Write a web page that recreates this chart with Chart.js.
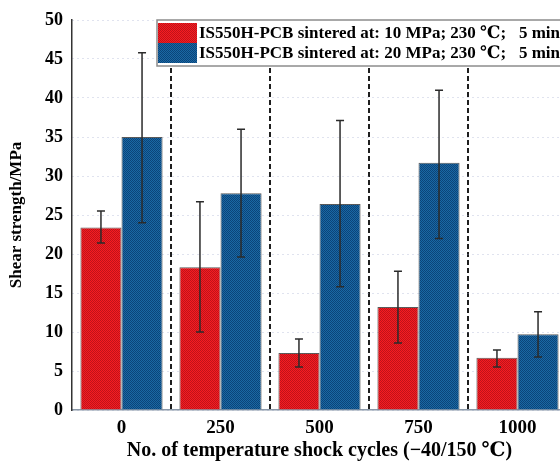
<!DOCTYPE html>
<html>
<head>
<meta charset="utf-8">
<script src="https://cdn.jsdelivr.net/npm/chart.js@4.4.1/dist/chart.umd.min.js"></script>
<style>
  html, body { margin: 0; padding: 0; background: #fff; overflow: hidden; }
  #wrap { width: 600px; height: 464px; }
</style>
</head>
<body>
<div id="wrap"><canvas id="chart" width="600" height="464"></canvas></div>
<script>
// values
const cycles = ['0', '250', '500', '750', '1000'];
const strength10 = [23.4, 18.3, 7.3, 13.2, 6.7];
const err10Low = [21.4, 10.0, 5.5, 8.6, 5.5];
const err10High = [25.5, 26.7, 9.1, 17.8, 7.7];
const strength20 = [35.0, 27.8, 26.4, 31.7, 9.7];
const err20Low = [24.0, 19.6, 15.8, 22.0, 6.8];
const err20High = [45.8, 36.0, 37.1, 41.0, 12.6];
const yTicks = [0, 5, 10, 15, 20, 25, 30, 35, 40, 45, 50];

const serif = "'Liberation Serif', 'Times New Roman', 'DejaVu Serif', serif";

function checker(a, b) {
  const c = document.createElement('canvas');
  c.width = 2;
  c.height = 2;
  const g = c.getContext('2d');
  g.fillStyle = a;
  g.fillRect(0, 0, 2, 2);
  g.fillStyle = b;
  g.fillRect(0, 0, 1, 1);
  g.fillRect(1, 1, 1, 1);
  return g.createPattern(c, 'repeat');
}

const redFill = checker('#f51d22', '#c01219');
const blueFill = checker('#1a68a4', '#0b4479');

// draws the error bars from the low/high arrays
const errorBars = {
  id: 'errorBars',
  afterDatasetsDraw(chart) {
    const ctx = chart.ctx;
    const y = chart.scales.y;
    chart.data.datasets.forEach((ds, i) => {
      const meta = chart.getDatasetMeta(i);
      meta.data.forEach((bar, j) => {
        const top = y.getPixelForValue(ds.errHigh[j]);
        const bot = y.getPixelForValue(ds.errLow[j]);
        ctx.save();
        ctx.strokeStyle = '#2b2b2b';
        ctx.lineWidth = 1.5;
        ctx.beginPath();
        ctx.moveTo(bar.x, top);
        ctx.lineTo(bar.x, bot);
        ctx.moveTo(bar.x - 4, top);
        ctx.lineTo(bar.x + 4, top);
        ctx.moveTo(bar.x - 4, bot);
        ctx.lineTo(bar.x + 4, bot);
        ctx.stroke();
        ctx.restore();
      });
    });
  }
};

// boxed legend sitting inside the plot, top right
const boxLegend = {
  id: 'boxLegend',
  afterDraw(chart) {
    const ctx = chart.ctx;
    const area = chart.chartArea;
    const left = 157;
    const top = area.top;
    const rowH = 20;
    ctx.save();
    ctx.fillStyle = '#fff';
    ctx.fillRect(left, top, 500, 46);
    ctx.strokeStyle = '#8c8c8c';
    ctx.lineWidth = 1.5;
    ctx.strokeRect(left, top, 500, 46);
    chart.data.datasets.forEach((ds, i) => {
      const ry = top + 3 + i * rowH;
      ctx.fillStyle = ds.backgroundColor;
      ctx.fillRect(left + 1, ry, 39, rowH);
      ctx.fillStyle = '#000';
      ctx.font = 'bold 17px ' + serif;
      ctx.textBaseline = 'middle';
      ctx.fillText(ds.label, left + 42, ry + rowH / 2 + 1);
    });
    ctx.restore();
  }
};

new Chart(document.getElementById('chart'), {
  type: 'bar',
  data: {
    labels: cycles,
    datasets: [
      {
        label: 'IS550H-PCB sintered at: 10 MPa; 230 ℃;   5 min',
        data: strength10,
        errLow: err10Low,
        errHigh: err10High,
        backgroundColor: redFill,
        borderColor: '#5a5a5a',
        borderWidth: 1
      },
      {
        label: 'IS550H-PCB sintered at: 20 MPa; 230 ℃;   5 min',
        data: strength20,
        errLow: err20Low,
        errHigh: err20High,
        backgroundColor: blueFill,
        borderColor: '#5a5a5a',
        borderWidth: 1
      }
    ]
  },
  options: {
    responsive: false,
    animation: false,
    devicePixelRatio: 1,
    categoryPercentage: 0.83,
    barPercentage: 1,
    layout: { padding: { left: 0, top: 20, right: 33, bottom: 0 } },
    plugins: {
      legend: { display: false },
      tooltip: { enabled: false }
    },
    scales: {
      x: {
        afterFit: (s) => { s.height = 54; },
        grid: {
          offset: true,
          drawTicks: false,
          // no dashed line on top of the solid y axis
          color: (c) => (c.index === 0 ? 'rgba(0,0,0,0)' : '#1e1e1e'),
          lineWidth: 2
        },
        border: { color: '#8a98a8', width: 1.5, dash: [5, 3] },
        ticks: {
          color: '#000',
          padding: 7,
          font: { family: serif, size: 19, weight: 'bold' }
        },
        title: {
          display: true,
          text: 'No. of temperature shock cycles (−40/150 ℃)',
          color: '#000',
          padding: { top: 0, bottom: 1 },
          font: { family: serif, size: 20, weight: 'bold' }
        }
      },
      y: {
        min: 0,
        max: 50,
        afterFit: (s) => { s.width = 72; },
        afterBuildTicks: (s) => { s.ticks = yTicks.map((v) => ({ value: v })); },
        grid: {
          drawTicks: false,
          color: 'rgba(150,160,200,0.6)',
          lineWidth: 1
        },
        border: { color: '#333', width: 1.5, dash: [1, 4] },
        ticks: {
          color: '#000',
          padding: 9,
          font: { family: serif, size: 18, weight: 'bold' }
        },
        title: {
          display: true,
          text: 'Shear strength/MPa',
          color: '#000',
          padding: { top: 6, bottom: 0 },
          font: { family: serif, size: 17, weight: 'bold' }
        }
      }
    }
  },
  plugins: [errorBars, boxLegend]
});
</script>
</body>
</html>
